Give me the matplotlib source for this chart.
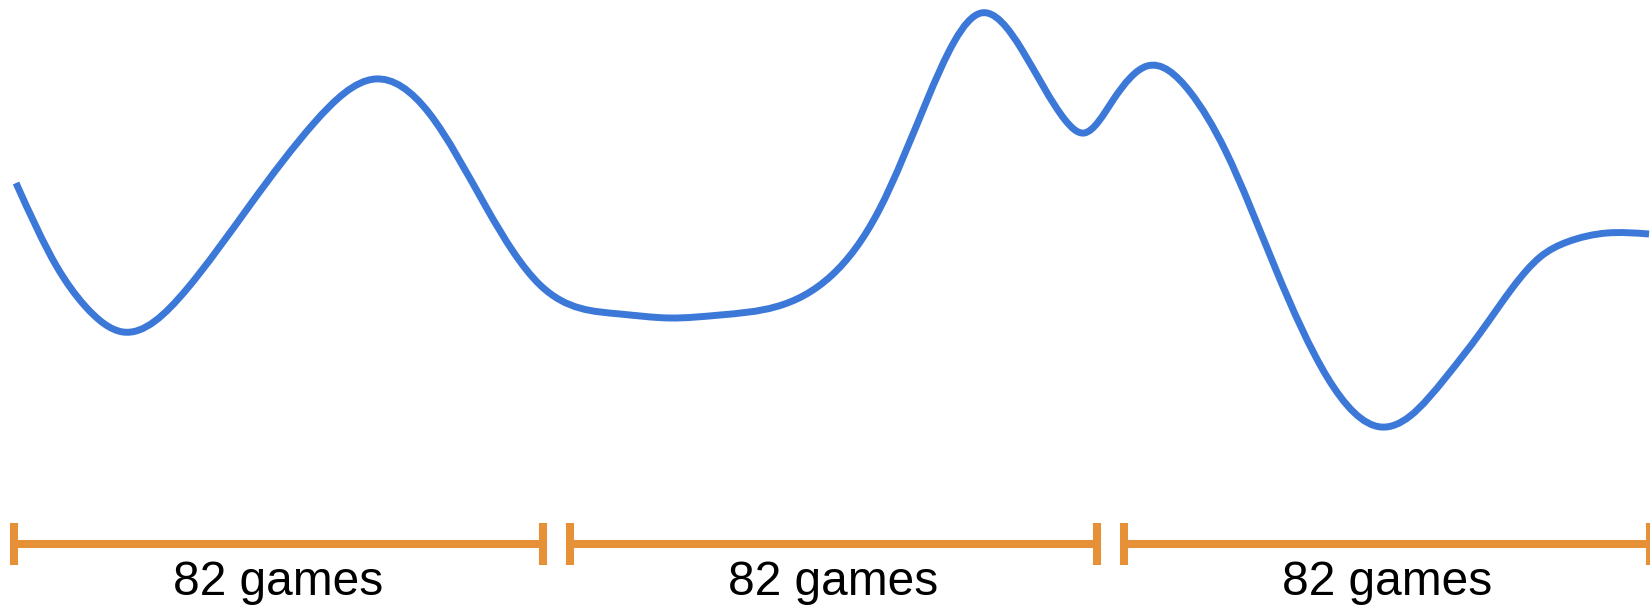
import matplotlib
matplotlib.use("Agg")
import matplotlib.pyplot as plt
import numpy as np
from matplotlib.path import Path
from matplotlib.patches import PathPatch

# rating over three seasons, x = game number, y = rating
games = [
    0.15, 6.32, 10.53, 16.25, 25.73, 35.36, 44.99, 54.17, 62.29, 70.87,
    75.09, 79.0, 91.03, 98.56, 106.08, 122.93, 130.01, 137.23, 145.36, 151.52,
    158.0, 160.85, 165.22, 170.33, 176.80, 182.07, 189.74, 197.42, 205.54, 209.91,
    215.32, 220.44, 225.40, 229.47, 233.53, 239.55, 245.86,
]
rating = [
    1617, 1533, 1494, 1468, 1510, 1595, 1677, 1721, 1687, 1593,
    1547, 1515, 1486, 1482, 1485, 1525, 1590, 1700, 1787, 1750,
    1680, 1667, 1700, 1734, 1708, 1650, 1530, 1423, 1373, 1384,
    1423, 1467, 1513, 1543, 1558, 1567, 1566,
]

season_label = "82 games"
# where each bracket's end ticks sit (in games)
bracket_spans = [(-0.2, 79.45), (83.5, 162.8), (166.9, 246.0)]

BLUE = "#3c78d8"
ORANGE = "#e69138"

assert len(games) == len(rating)


def smooth_path(xs, ys):
    """Natural cubic spline through the points, written as Bezier segments."""
    x = np.asarray(xs, float)
    y = np.asarray(ys, float)
    n = len(x)
    h = np.diff(x)
    d = np.diff(y) / h
    A = np.zeros((n, n))
    b = np.zeros(n)
    A[0, 0] = A[-1, -1] = 1
    for i in range(1, n - 1):
        A[i, i - 1] = h[i - 1]
        A[i, i] = 2 * (h[i - 1] + h[i])
        A[i, i + 1] = h[i]
        b[i] = 6 * (d[i] - d[i - 1])
    M = np.linalg.solve(A, b)
    verts = [(x[0], y[0])]
    codes = [Path.MOVETO]
    for i in range(n - 1):
        m0 = d[i] - h[i] * (2 * M[i] + M[i + 1]) / 6
        m1 = d[i] + h[i] * (M[i] + 2 * M[i + 1]) / 6
        dx = h[i] / 3
        verts += [(x[i] + dx, y[i] + m0 * dx),
                  (x[i + 1] - dx, y[i + 1] - m1 * dx),
                  (x[i + 1], y[i + 1])]
        codes += [Path.CURVE4] * 3
    return Path(verts, codes)


fig = plt.figure(figsize=(16.5, 6.08), dpi=100)
ax = fig.add_axes([0, 0, 1, 1])
ax.set_xlim(-2.26, 246.0)
ax.set_ylim(1192, 1800)
ax.axis("off")

ax.add_patch(PathPatch(smooth_path(games, rating), fill=False, edgecolor=BLUE,
                       lw=5, capstyle="butt", joinstyle="round"))

# season brackets under the curve
bracket_y = 1256
tick_half = 21
for start, end in bracket_spans:
    ax.plot([start, end], [bracket_y, bracket_y], color=ORANGE, lw=5.8,
            solid_capstyle="butt")
    for xe in (start, end):
        ax.plot([xe, xe], [bracket_y - tick_half, bracket_y + tick_half],
                color=ORANGE, lw=5.8, solid_capstyle="butt")
    ax.text((start + end) / 2, 1205, season_label, ha="center",
            va="baseline", fontsize=34.5, family=["Liberation Sans", "DejaVu Sans"],
            color="black")

fig.savefig("out.png", dpi=100)
